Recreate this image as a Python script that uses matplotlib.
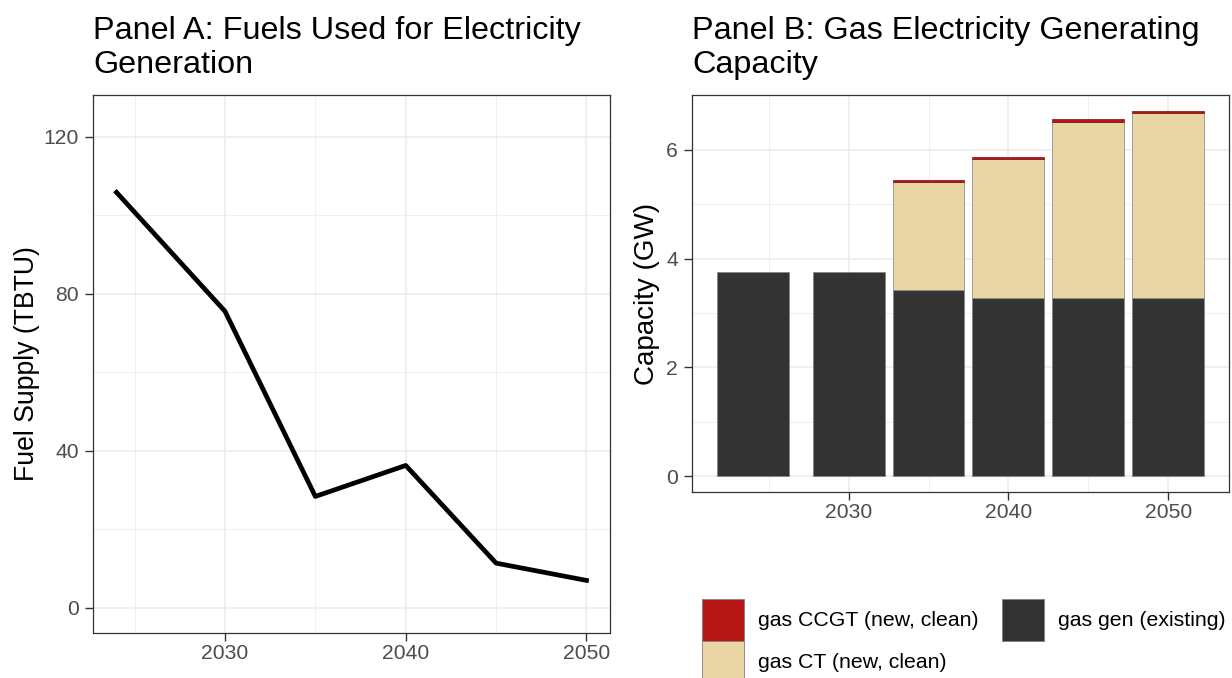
import matplotlib.pyplot as plt
import matplotlib.patches as mpatches
import numpy as np

plt.rcParams['font.family'] = ['Liberation Sans', 'DejaVu Sans']

# Panel A data
years_a = [2024, 2030, 2035, 2040, 2045, 2050]
fuel_supply = [105.9, 75.6, 28.4, 36.3, 11.4, 7.0]

# Panel B data
years_b = [2024, 2030, 2035, 2040, 2045, 2050]
gas_existing = [3.75, 3.75, 3.42, 3.28, 3.28, 3.28]
gas_ct = [0.0, 0.0, 1.99, 2.55, 3.23, 3.39]
gas_ccgt = [0.0, 0.0, 0.04, 0.04, 0.05, 0.05]

labels = ['gas CCGT (new, clean)', 'gas CT (new, clean)', 'gas gen (existing)']
colors = {'existing': '#333333', 'ct': '#E9D6A4', 'ccgt': '#B51515'}

grid_c = '#EBEBEB'
border_c = '#333333'
tick_c = '#4D4D4D'
edge_c = '#808080'


def style_axes(ax, major_y, minor_y, major_x, minor_x):
    ax.set_yticks(major_y)
    ax.set_yticks(minor_y, minor=True)
    ax.set_xticks(major_x)
    ax.set_xticks(minor_x, minor=True)
    ax.grid(which='major', color=grid_c, lw=1.1, zorder=0)
    ax.grid(which='minor', color=grid_c, lw=0.55, zorder=0)
    ax.set_axisbelow(True)
    for s in ax.spines.values():
        s.set_color(border_c)
        s.set_linewidth(0.9)
    ax.tick_params(which='major', length=5.5, width=1.0, color=border_c,
                   labelsize=15.2, labelcolor=tick_c)
    ax.tick_params(axis='x', pad=2.5)
    ax.tick_params(axis='y', pad=4.5)
    ax.tick_params(which='minor', length=0)


def stacked(ax, x, h, bottom, color, edge):
    # skip empty segments so no stray outline is drawn
    x, h, bottom = np.asarray(x), np.asarray(h), np.asarray(bottom)
    keep = h > 0
    ax.bar(x[keep], h[keep], width=4.5, bottom=bottom[keep], color=color,
           edgecolor=edge, lw=0.5, zorder=2)


fig = plt.figure(figsize=(12.32, 6.78), dpi=100)

# Panel A
ax1 = fig.add_axes([93 / 1232, 45 / 678, 517 / 1232, 538 / 678])
ax1.plot(years_a, fuel_supply, color='black', lw=3.4, zorder=3)
ax1.set_xlim(2022.7, 2051.3)
ax1.set_ylim(-6.4, 130.7)
style_axes(ax1, [0, 40, 80, 120], [20, 60, 100], [2030, 2040, 2050], [2025, 2035, 2045])
ax1.set_ylabel('Fuel Supply (TBTU)', fontsize=19.2, labelpad=3)
ax1.set_title('Panel A: Fuels Used for Electricity\nGeneration',
              loc='left', fontsize=23.3, pad=16, linespacing=1.15)

# Panel B
ax2 = fig.add_axes([692 / 1232, 186 / 678, 537 / 1232, 397 / 678])
zeros = np.zeros(len(years_b))
stacked(ax2, years_b, gas_existing, zeros, colors['existing'], edge_c)
stacked(ax2, years_b, gas_ct, gas_existing, colors['ct'], edge_c)
stacked(ax2, years_b, gas_ccgt, np.add(gas_existing, gas_ct), colors['ccgt'], '#7a1010')
ax2.set_xlim(2020.2, 2053.8)
ax2.set_ylim(-0.29, 7.01)
style_axes(ax2, [0, 2, 4, 6], [1, 3, 5], [2030, 2040, 2050], [2025, 2035, 2045])
ax2.set_ylabel('Capacity (GW)', fontsize=20.0, labelpad=4.5)
ax2.set_title('Panel B: Gas Electricity Generating\nCapacity',
              loc='left', fontsize=23.3, pad=16, linespacing=1.15)

handles = [mpatches.Patch(facecolor=colors['ccgt'], edgecolor=edge_c, lw=0.6),
           mpatches.Patch(facecolor=colors['ct'], edgecolor=edge_c, lw=0.6),
           mpatches.Patch(facecolor=colors['existing'], edgecolor=edge_c, lw=0.6)]
fig.legend(handles, labels, ncol=2, loc='upper left',
           bbox_to_anchor=(702 / 1232, 1 - 599 / 678), frameon=False,
           fontsize=15.3, handlelength=1.98, handleheight=2.66,
           labelspacing=0.0, handletextpad=0.66, columnspacing=1.08,
           borderpad=0.0, borderaxespad=0.0)

fig.savefig('out.png', dpi=100)
